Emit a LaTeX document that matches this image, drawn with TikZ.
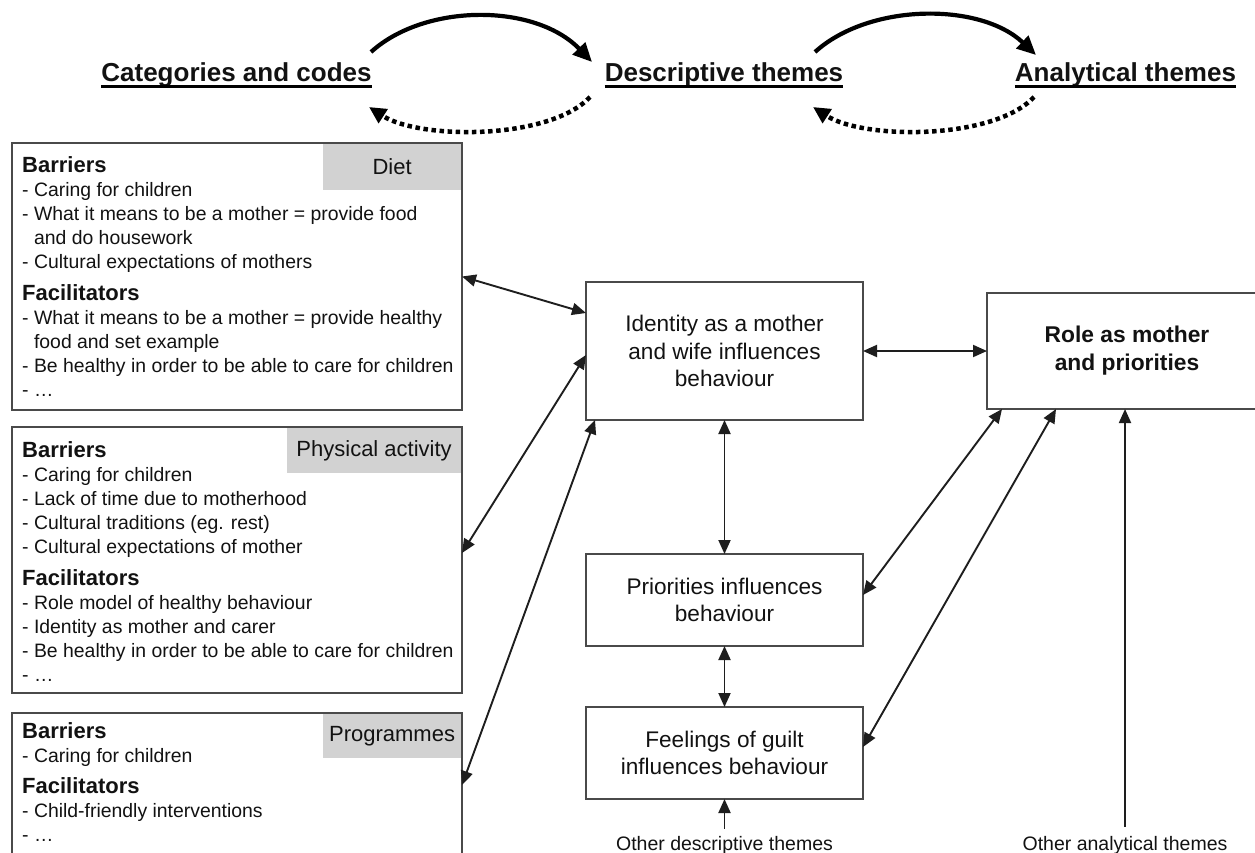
\documentclass[tikz,border=0pt]{standalone}
\usepackage{fontspec}
\setmainfont{Liberation Sans}
\usetikzlibrary{arrows.meta}
\definecolor{ln}{HTML}{1E1E1E}
\definecolor{bx}{HTML}{4A4A4A}
\definecolor{labgray}{HTML}{D2D2D2}
\definecolor{tx}{HTML}{121212}
\newcommand{\hd}[1]{{\fontsize{22}{24}\selectfont\bfseries #1}}
\newcommand{\ind}{\hphantom{- }}
\begin{document}
\begin{tikzpicture}[x=1pt,y=-1pt,text=tx,
  box/.style={draw=bx,line width=1.4pt,anchor=north west,inner sep=0,outer sep=0},
  glab/.style={fill=labgray,anchor=north east,inner sep=0,font=\fontsize{22}{24}\selectfont},
  lst/.style={anchor=north west,inner sep=0,align=left,font=\fontsize{19.4}{24}\selectfont},
  cbox/.style={draw=bx,line width=1.4pt,inner sep=0,outer sep=0,anchor=north west,align=center,font=\fontsize{22.6}{27.5}\selectfont},
  head/.style={anchor=base,inner sep=0,font=\fontsize{26}{30}\selectfont\bfseries},
  other/.style={anchor=base,inner sep=0,font=\fontsize{19.5}{22}\selectfont},
  con/.style={draw=ln,line width=1.9pt,{Triangle[length=14pt,width=12pt]}-{Triangle[length=14pt,width=12pt]}},
  con1/.style={draw=ln,line width=1.9pt,-{Triangle[length=14pt,width=12pt]}},
  bigarc/.style={draw=black,line width=4.2pt,-{Triangle[length=19pt,width=17pt]}},
  dotarc/.style={draw=black,line width=4.5pt,dash pattern=on 4.5pt off 3.6pt,-{Triangle[length=17pt,width=16pt]}}
]
\fill[white] (0,0) rectangle (1255,852);
\useasboundingbox (0,0) rectangle (1255,852);

% ---------- headings ----------
\node[head] (cat)  at (236.5,81) {Categories and codes};
\node[head] (desc) at (724,81) {Descriptive themes};
\node[head] (ana)  at (1125.5,81) {Analytical themes};
\foreach \n in {cat,desc,ana}
  \draw[line width=2.4pt] ([yshift=-5.5pt]\n.base west) -- ([yshift=-5.5pt]\n.base east);

\coordinate (a1s) at (371,52);
\coordinate (a1e) at (592,62);
\coordinate (a2s) at (815,52);
\coordinate (a2e) at (1036,55);
\coordinate (d1s) at (590,97);
\coordinate (d1e) at (369,107);
\coordinate (d2s) at (1034,97);
\coordinate (d2e) at (813,107);
\draw[bigarc] (a1s) .. controls (425,3) and (535,3) .. (a1e);
\draw[bigarc] (a2s) .. controls (869,3) and (980,2) .. (a2e);
\draw[dotarc] (d1s) .. controls (550,140) and (420,140) .. (d1e);
\draw[dotarc] (d2s) .. controls (994,140) and (864,140) .. (d2e);

% ---------- left boxes ----------
\node[box,minimum width=450pt,minimum height=267pt] (diet) at (12,143) {};
\node[glab,minimum width=138pt,minimum height=46pt] (dietlab) at ([xshift=-0.7pt,yshift=-0.7pt]diet.north east) {Diet};
\node[lst] (diettxt) at (22,156) {\hd{Barriers}\\
- Caring for children\\
- What it means to be a mother = provide food\\
\ind and do housework\\
- Cultural expectations of mothers\\[8pt]
\hd{Facilitators}\\
- What it means to be a mother = provide healthy\\
\ind food and set example\\
- Be healthy in order to be able to care for children\\
- …};

\node[box,minimum width=450pt,minimum height=266pt] (pa) at (12,427) {};
\node[glab,minimum width=174pt,minimum height=45pt] (palab) at ([xshift=-0.7pt,yshift=-0.7pt]pa.north east) {Physical activity};
\node[lst] (patxt) at (22,441) {\hd{Barriers}\\
- Caring for children\\
- Lack of time due to motherhood\\
- Cultural traditions (eg. rest)\\
- Cultural expectations of mother\\[8pt]
\hd{Facilitators}\\
- Role model of healthy behaviour\\
- Identity as mother and carer\\
- Be healthy in order to be able to care for children\\
- …};

\node[box,minimum width=450pt,minimum height=150pt] (prog) at (12,713) {};
\node[glab,minimum width=138pt,minimum height=44pt] (proglab) at ([xshift=-0.7pt,yshift=-0.7pt]prog.north east) {Programmes};
\node[lst] (progtxt) at (22,722) {\hd{Barriers}\\
- Caring for children\\[7pt]
\hd{Facilitators}\\
- Child-friendly interventions\\
- …};

% ---------- central boxes ----------
\node[cbox,minimum width=277pt,minimum height=138pt] (iden) at (586,282) {Identity as a mother\\and wife influences\\behaviour};
\node[cbox,minimum width=277pt,minimum height=92pt] (prio) at (586,554) {Priorities influences\\behaviour};
\node[cbox,minimum width=277pt,minimum height=92pt] (feel) at (586,707) {Feelings of guilt\\influences behaviour};
\node[cbox,minimum width=280pt,minimum height=116pt,font=\fontsize{22.8}{28}\selectfont\bfseries] (role) at (987,293) {Role as mother\\and priorities};

\node[other] (othdesc) at (724.5,850) {Other descriptive themes};
\node[other] (othana) at (1125,850) {Other analytical themes};

% ---------- connectors ----------
\draw[con] (diet.east) -- ([yshift=38pt]iden.west);
\draw[con] ([yshift=7pt]pa.east) -- ([yshift=-4pt]iden.west);
\draw[con] ([yshift=3pt]prog.east) -- ([xshift=9pt]iden.south west);
\draw[con] (iden.east) -- (iden.east -| role.west);
\draw[con] (iden.south) -- (prio.north);
\draw[con] (prio.south) -- (feel.north);
\draw[con1] ([yshift=7pt]othdesc.north) -- (feel.south);
\draw[con] ([xshift=15pt]role.south west) -- ([yshift=5pt]prio.east);
\draw[con] ([xshift=69pt]role.south west) -- ([yshift=6pt]feel.east);
\draw[con1] ([yshift=9pt]othana.north) -- (othana.north |- role.south);
\end{tikzpicture}
\end{document}
